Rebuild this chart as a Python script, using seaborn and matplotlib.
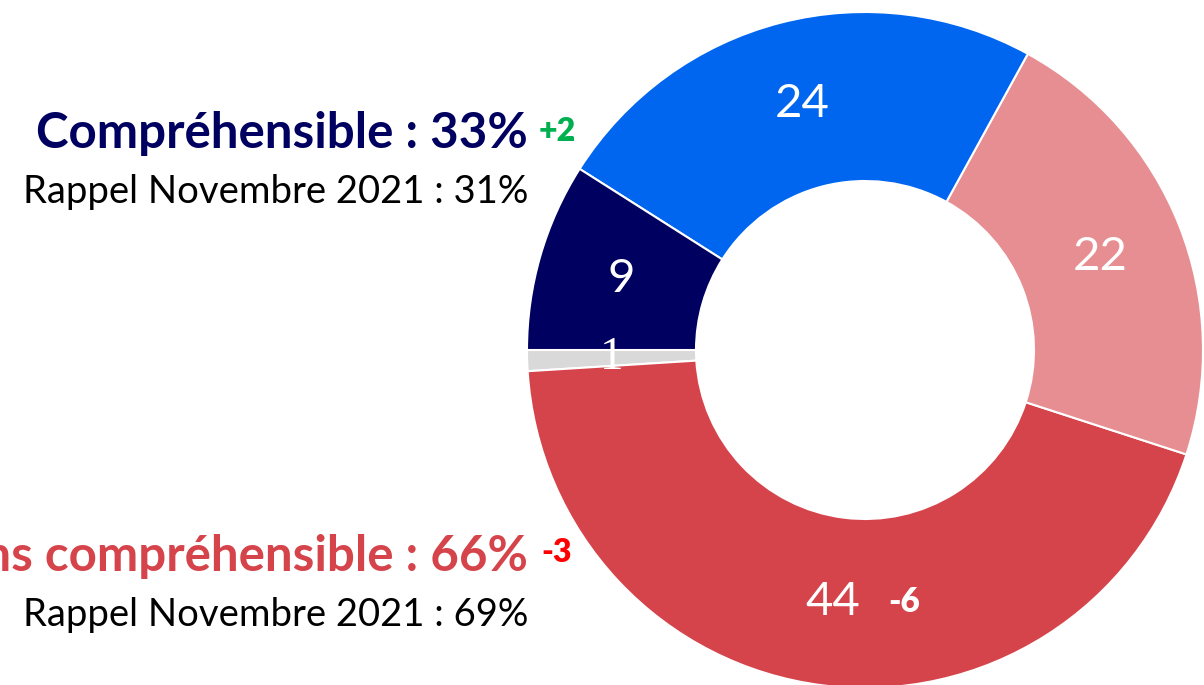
import matplotlib
matplotlib.use("Agg")
import matplotlib.pyplot as plt
import seaborn as sns
import numpy as np

# Data
categories = ["Non réponse", "Pas du tout compréhensible", "Plutôt pas compréhensible",
              "Plutôt compréhensible", "Très compréhensible"]
values = [1, 44, 22, 24, 9]
colors = ["#D9D9D9", "#D6444B", "#E78E92", "#0066F0", "#000060"]
seg_labels = ["1", "44", "22", "24", "9"]
change_44 = "-6"

title_pos = "Compréhensible : 33%"
title_pos_delta = "+2"
recall_pos = "Rappel Novembre 2021 : 31%"
title_neg = "Moins compréhensible : 66%"
title_neg_delta = "-3"
recall_neg = "Rappel Novembre 2021 : 69%"

sns.set_theme(style="white")
plt.rcParams['font.family'] = ['Lato', 'DejaVu Sans']

W, H = 1204, 685
fig = plt.figure(figsize=(W / 100, H / 100), dpi=100)
ax = fig.add_axes([0, 0, 1, 1])
cx, cy, R = 865, 350, 338

wedges, texts = ax.pie(values, colors=sns.color_palette(colors), startangle=180,
                       counterclock=True, radius=1.0, labels=seg_labels,
                       labeldistance=0.75,
                       wedgeprops=dict(width=0.5, edgecolor="white", linewidth=1.5),
                       textprops=dict(color="white", fontsize=34))
ax.set_xlim(-cx / R, (W - cx) / R)
ax.set_ylim(-(H - cy) / R, cy / R)
ax.set_aspect("equal")
ax.axis("off")
for t in texts:
    t.set_ha("center")
    t.set_va("center")
texts[0].set_family(["Liberation Serif", "DejaVu Serif"])

# change next to 44
x44, y44 = texts[1].get_position()
ax.text(x44 + 71 / R, y44, change_44, color="white", fontsize=24, fontweight="heavy",
        ha="center", va="center")

def px(x, y):
    return (x - cx) / R, (cy - y) / R

ax.text(*px(528, 148), title_pos, color="#000060", fontsize=35.5, fontweight="bold",
        ha="right", va="baseline")
ax.text(*px(539, 141), title_pos_delta, color="#00B050", fontsize=23, fontweight="heavy",
        ha="left", va="baseline")
ax.text(*px(528, 203), recall_pos, color="black", fontsize=27.5,
        ha="right", va="baseline")

ax.text(*px(528, 571), title_neg, color="#D6444B", fontsize=35.5, fontweight="bold",
        ha="right", va="baseline")
ax.text(*px(541, 562), title_neg_delta, color="#FF0000", fontsize=23, fontweight="heavy",
        ha="left", va="baseline")
ax.text(*px(528, 626), recall_neg, color="black", fontsize=27.5,
        ha="right", va="baseline")

fig.savefig("out.png", dpi=100, facecolor="white")
